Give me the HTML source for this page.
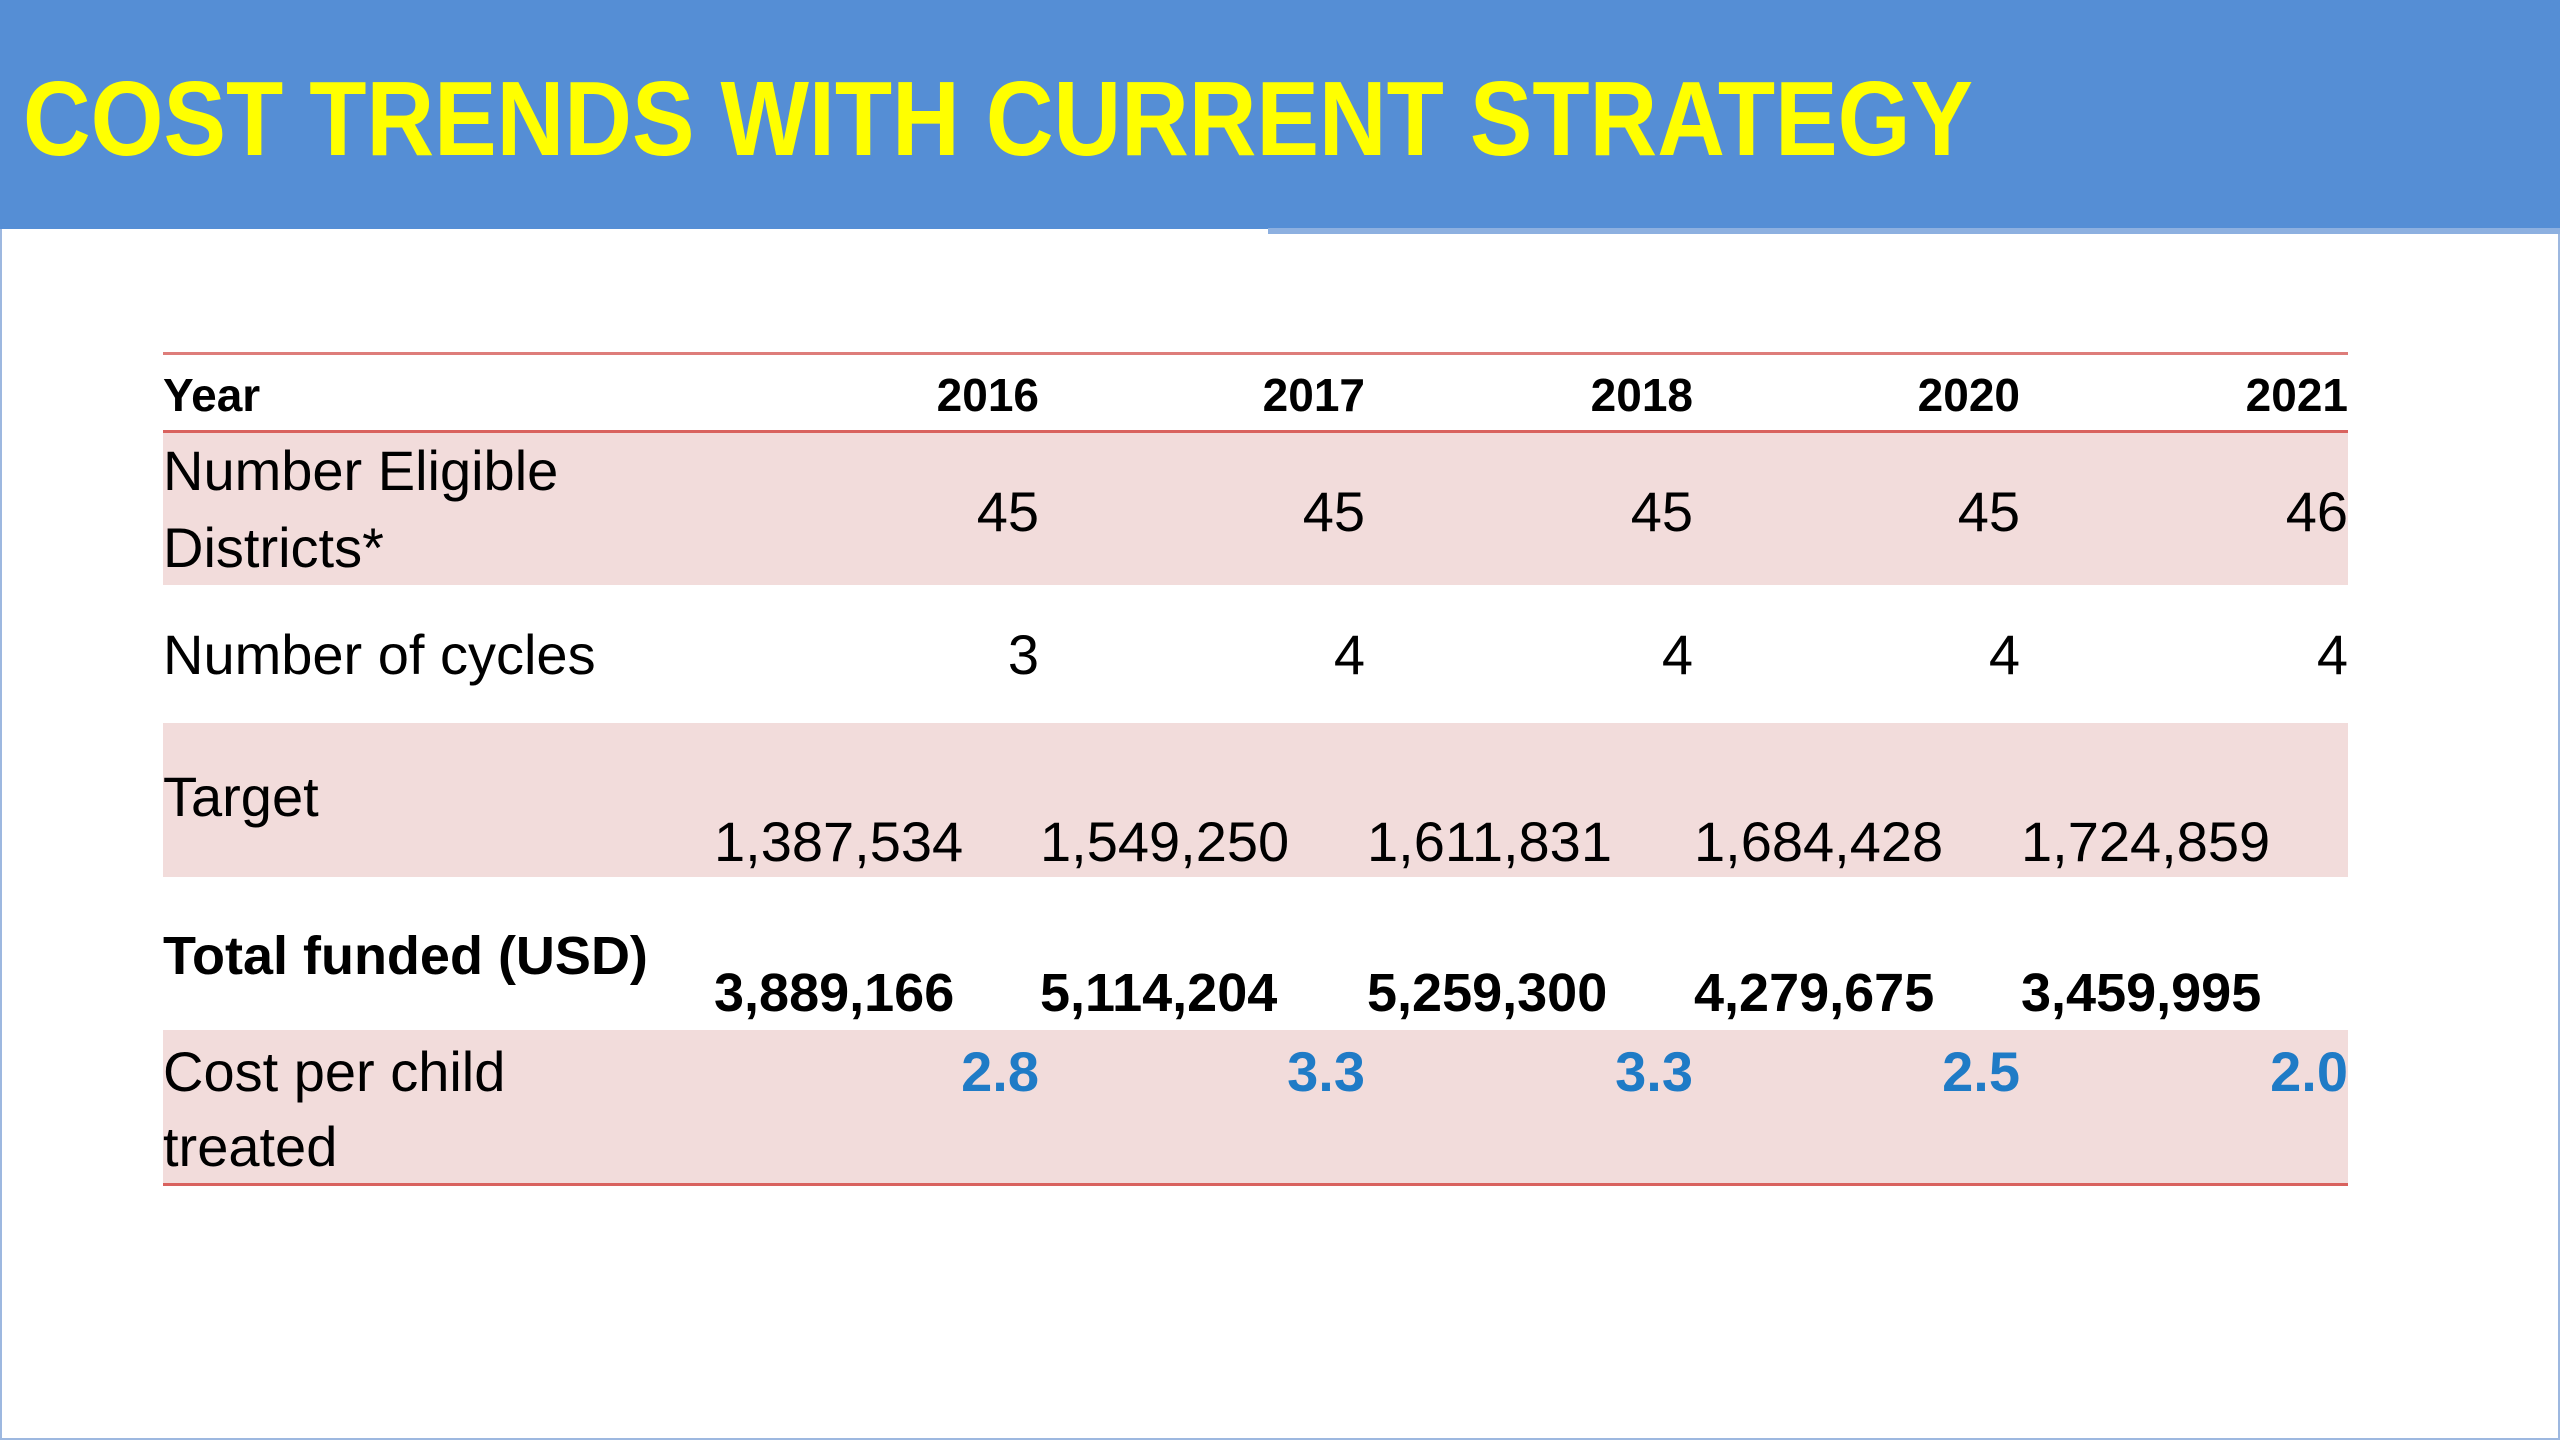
<!DOCTYPE html>
<html><head><meta charset="utf-8"><style>
body{margin:0;width:2560px;height:1440px;overflow:hidden;background:#fff;font-family:"Liberation Sans",sans-serif;position:relative}
.abs{position:absolute;white-space:nowrap;line-height:1}
</style></head><body>
<div style="position:absolute;left:0;top:0;width:2556px;height:1436px;border:2px solid #9db8e0"></div>
<div style="position:absolute;left:0;top:0;width:2560px;height:229px;background:#558ed5"></div>
<div style="position:absolute;left:1268px;top:228px;width:1292px;height:6px;background:#8db0e0"></div>
<svg style="position:absolute;left:0;top:0" width="2560" height="229">
<text x="23" y="155" textLength="1950" lengthAdjust="spacingAndGlyphs" font-family="Liberation Sans, sans-serif" font-weight="bold" font-size="106" fill="#ffff00">COST TRENDS WITH CURRENT STRATEGY</text>
</svg>
<div id="table"></div>
<script>
const years=["2016","2017","2018","2020","2021"];
const districts=["45","45","45","45","46"];
const cycles=["3","4","4","4","4"];
const targets=["1,387,534","1,549,250","1,611,831","1,684,428","1,724,859"];
const funded=["3,889,166","5,114,204","5,259,300","4,279,675","3,459,995"];
const costPerChild=["2.8","3.3","3.3","2.5","2.0"];
const T=document.getElementById('table');
const L=163,R=2348;
const colRight=[1039,1365,1693,2020,2348];
const colLeft=[714,1040,1367,1694,2021];
function rect(top,h,color,name){const d=document.createElement('div');


d.style.cssText=`position:absolute;left:${L}px;top:${top}px;width:${R-L}px;height:${h}px;background:${color}`;T.appendChild(d);}
rect(431,154,'#f2dcdb','row-eligible-bg');
rect(723,154,'#f2dcdb','row-target-bg');
rect(1030,154,'#f2dcdb','row-cost-bg');
rect(352,3,'#de7d7a','table-top-line');
rect(430,3,'#d9625e','header-bottom-line');
rect(1183,3,'#d9625e','table-bottom-line');
function txt(s,x,base,fs,opts,name){const d=document.createElement('div');


d.className='abs';d.textContent=s;
d.style.fontSize=fs+'px';d.style.top=(base-0.846*fs)+'px';
if(opts.bold)d.style.fontWeight='bold';
d.style.color=opts.color||'#000';
if(opts.right){d.style.right=(2560-x)+'px';}else d.style.left=x+'px';
T.appendChild(d);}
txt('Year',L,411,46,{bold:1},'header-year');
txt('Number Eligible',L,490,56,{},'label-eligible');
txt('Districts*',L,567,56,{},'label-eligible-2');
txt('Number of cycles',L,674,56,{},'label-cycles');
txt('Target',L,816,56,{},'label-target');
txt('Total funded (USD)',L,975,54,{bold:1},'label-funded');
txt('Cost per child',L,1091,56,{},'label-cost');
txt('treated',L,1166,56,{},'label-cost-2');
years.forEach((v,i)=>{
txt(v,colRight[i],411,46,{bold:1,right:1},'year-'+v);
txt(districts[i],colRight[i],531,56,{right:1},'districts-'+v);
txt(cycles[i],colRight[i],674,56,{right:1},'cycles-'+v);
txt(targets[i],colLeft[i],861,56,{},'target-'+v);
txt(funded[i],colLeft[i],1012,54,{bold:1},'funded-'+v);
txt(costPerChild[i],colRight[i],1091,56,{bold:1,right:1,color:'#1f7bc6'},'cost-'+v);
});
</script>
</body></html>
